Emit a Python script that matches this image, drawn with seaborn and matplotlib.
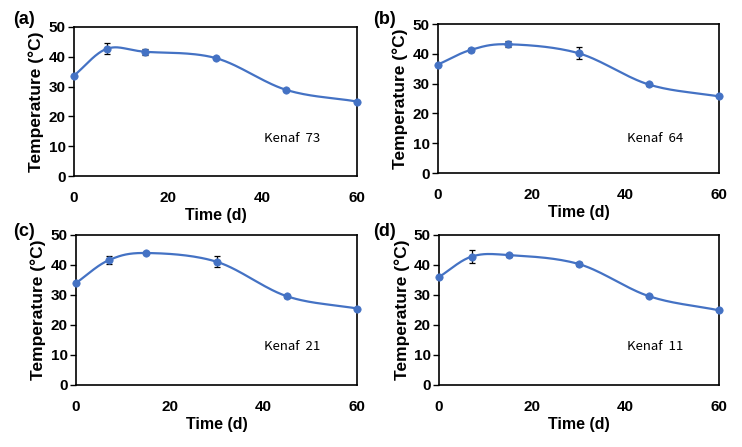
import numpy as np
import pandas as pd
import matplotlib
matplotlib.use("Agg")
import matplotlib.pyplot as plt
import seaborn as sns

days = [0, 7, 15, 30, 45, 60]
temp_a = [33.7, 42.7, 41.7, 39.6, 28.9, 25.0]
err_a = [0.3, 1.9, 1.0, 0.4, 0.4, 0.3]
temp_b = [36.4, 41.3, 43.2, 40.2, 29.7, 25.7]
err_b = [0.3, 0.8, 1.0, 2.0, 0.4, 0.3]
temp_c = [34.0, 41.6, 44.0, 41.1, 29.6, 25.5]
err_c = [0.3, 1.4, 0.4, 1.9, 0.5, 0.3]
temp_d = [36.0, 42.8, 43.3, 40.3, 29.6, 24.9]
err_d = [0.3, 2.2, 0.5, 0.6, 0.4, 0.3]
panel_labels = ["(a)", "(b)", "(c)", "(d)"]
names = ["Kenaf  73", "Kenaf  64", "Kenaf  21", "Kenaf  11"]
xticks = [0, 20, 40, 60]
yticks = [0, 10, 20, 30, 40, 50]

series = [temp_a, temp_b, temp_c, temp_d]
errors = [err_a, err_b, err_c, err_d]

sns.set_theme(style="white")
plt.rcParams['font.family'] = ['Liberation Sans', 'DejaVu Sans']
plt.rcParams['text.color'] = 'black'
plt.rcParams['axes.labelcolor'] = 'black'
plt.rcParams['xtick.color'] = 'black'
plt.rcParams['ytick.color'] = 'black'

BLUE = "#4472C4"


def smooth(x, y, n=30):
    # Catmull-Rom style smoothing (like spreadsheet smoothed lines)
    x = np.asarray(x, float)
    y = np.asarray(y, float)
    px = np.concatenate([[2 * x[0] - x[1]], x, [2 * x[-1] - x[-2]]])
    py = np.concatenate([[2 * y[0] - y[1]], y, [2 * y[-1] - y[-2]]])
    xs, ys = [], []
    t = np.linspace(0, 1, n)
    for i in range(1, len(px) - 2):
        p0, p1, p2, p3 = [np.array([px[j], py[j]]) for j in (i - 1, i, i + 1, i + 2)]
        tau = 1 / 6
        c1 = p1 + (p2 - p0) * tau
        c2 = p2 - (p3 - p1) * tau
        tt = t[:, None]
        pts = ((1 - tt) ** 3) * p1 + 3 * ((1 - tt) ** 2) * tt * c1 + 3 * (1 - tt) * tt ** 2 * c2 + tt ** 3 * p2
        xs.extend(pts[:, 0])
        ys.extend(pts[:, 1])
    return np.array(xs), np.array(ys)


fig = plt.figure(figsize=(7.42, 4.47), dpi=100)
rects = [
    [74 / 742, 1 - 176 / 447, 283 / 742, 149 / 447],
    [438 / 742, 1 - 173 / 447, 281 / 742, 149 / 447],
    [76 / 742, 1 - 385 / 447, 281 / 742, 150 / 447],
    [439 / 742, 1 - 385 / 447, 280 / 742, 150 / 447],
]
label_pos = [(24, 20), (384, 19), (24, 232), (384, 232)]
text_pos = [(40.3, 12.6), (40.4, 11.7), (40.1, 12.9), (40.3, 12.9)]

for i in range(4):
    ax = fig.add_axes(rects[i])
    sx, sy = smooth(days, series[i])
    sns.lineplot(x=sx, y=sy, ax=ax, color=BLUE, lw=1.6, sort=False, estimator=None)
    ax.errorbar(days, series[i], yerr=errors[i], fmt='none', ecolor='black',
                elinewidth=0.9, capsize=2.5, capthick=0.9, zorder=3)
    df = pd.DataFrame({"Time": days, "Temp": series[i]})
    sns.scatterplot(data=df, x="Time", y="Temp", ax=ax, color=BLUE, s=28,
                    edgecolor=BLUE, linewidth=0.5, zorder=4, clip_on=False)
    ax.set_xlim(0, 60)
    ax.set_ylim(0, 50)
    ax.set_xticks(xticks)
    ax.set_yticks(yticks)
    ax.set_xticklabels([str(v) for v in xticks], fontsize=11, fontweight='bold')
    ax.set_yticklabels([str(v) for v in yticks], fontsize=11, fontweight='bold')
    ax.tick_params(axis='y', which='both', left=True, length=4, width=1, color='black', pad=2)
    ax.tick_params(axis='x', bottom=False, pad=5)
    for sp in ax.spines.values():
        sp.set_visible(True)
        sp.set_color('black')
        sp.set_linewidth(1.2)
    ax.set_xlabel("Time (d)", fontsize=11.5, fontweight='bold', labelpad=2)
    ax.set_ylabel("Temperature (°C)", fontsize=12.5, fontweight='bold', labelpad=3)
    ax.text(text_pos[i][0], text_pos[i][1], names[i], fontsize=9.5,
            family=['Noto Sans CJK KR', 'DejaVu Sans'], va='center', ha='left')
    fig.text(label_pos[i][0] / 742, 1 - label_pos[i][1] / 447, panel_labels[i],
             fontsize=13, fontweight='bold', ha='center', va='center')

fig.savefig("out.png", dpi=100)
